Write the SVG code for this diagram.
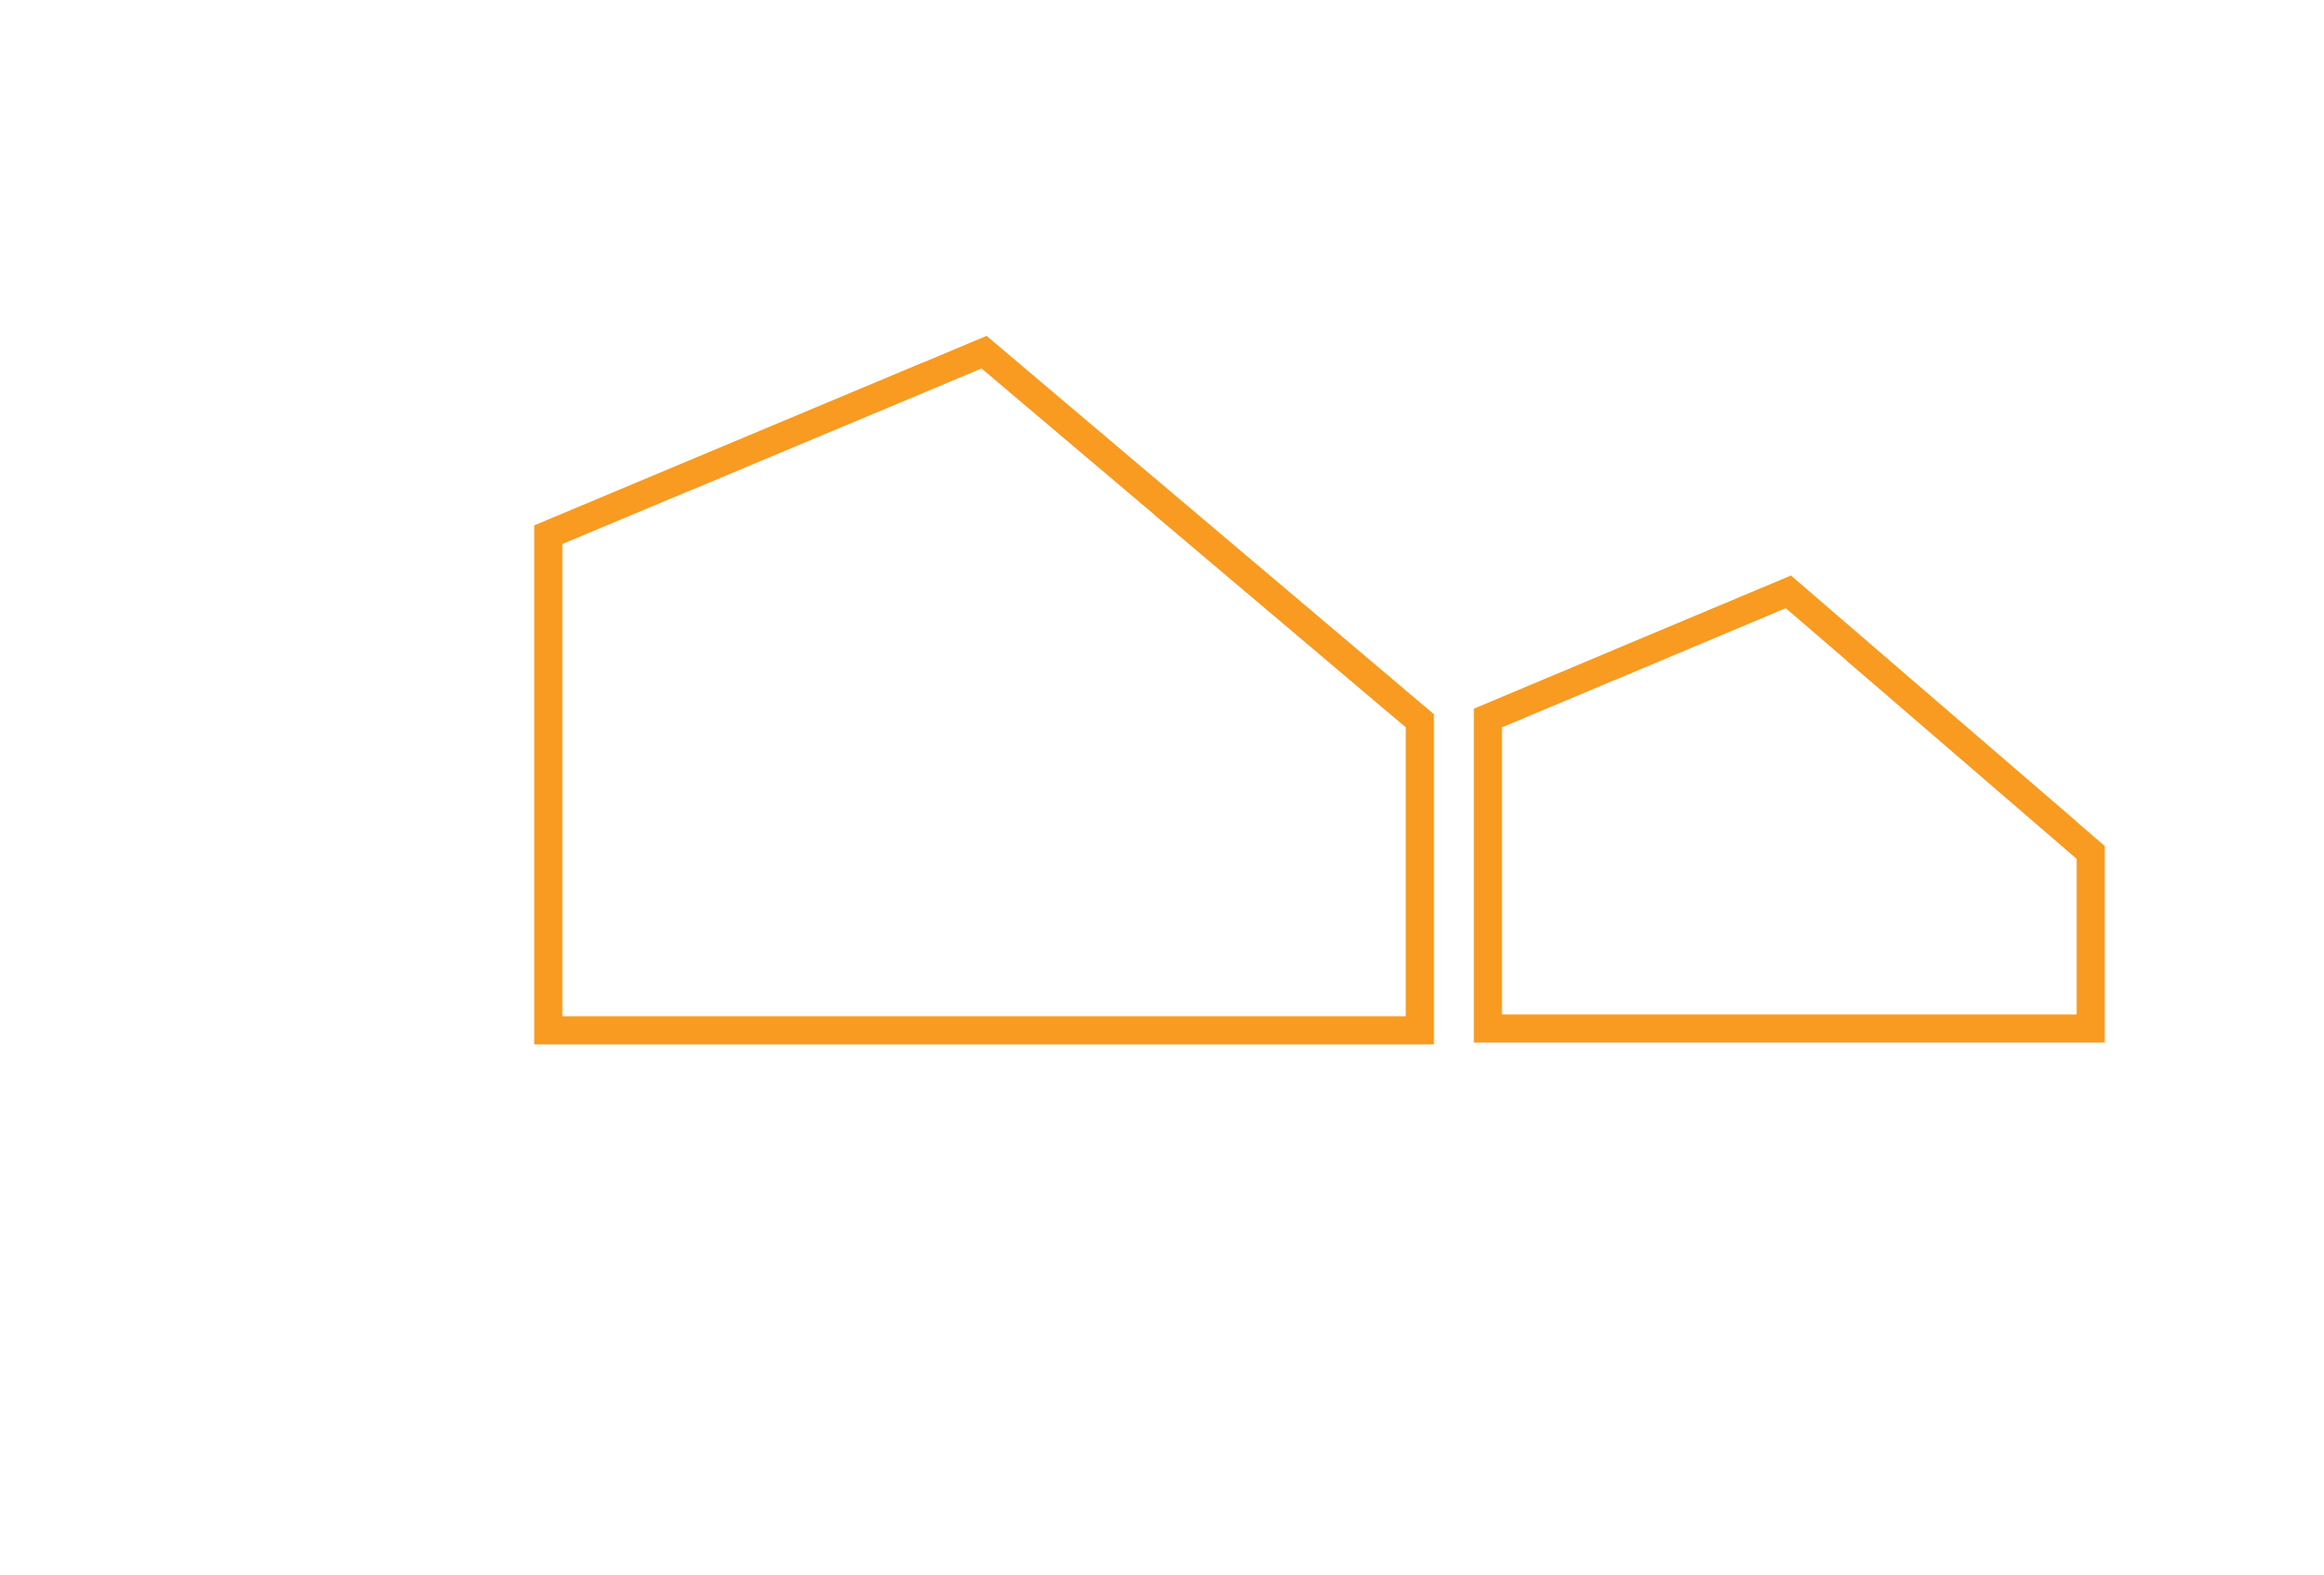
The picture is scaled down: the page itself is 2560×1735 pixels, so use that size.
<svg xmlns="http://www.w3.org/2000/svg" width="2560" height="1735" viewBox="0 0 2560 1735">
<style>.h{fill:none;stroke:#F89B20;stroke-width:31;stroke-linejoin:miter}</style>
<rect width="2560" height="1735" fill="#fff"/>
<g id="house-large"><polygon class="h" points="604,1135 604,589 1084,388 1564,794 1564,1135"/></g>
<g id="house-small"><polygon class="h" points="1639,1133 1639,791 1970,652 2303,939 2303,1133"/></g>
<g id="connectors"/>
</svg>
